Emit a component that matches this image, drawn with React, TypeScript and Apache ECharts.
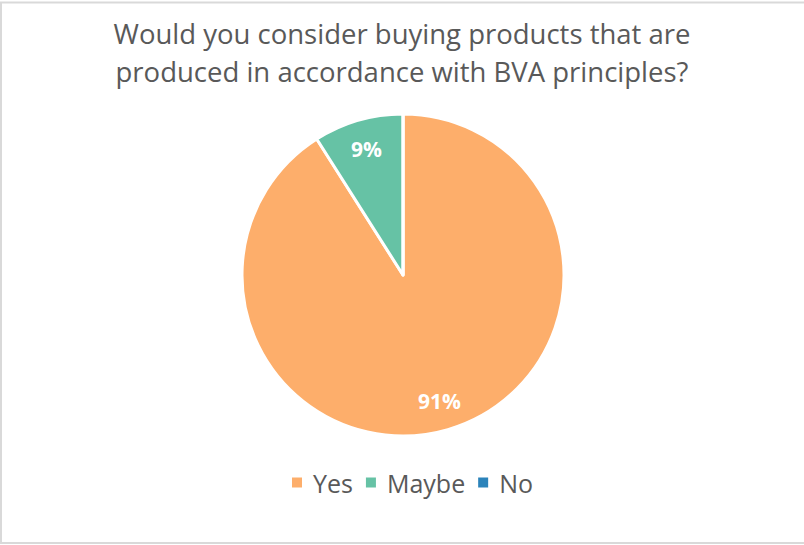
import React, { useEffect, useRef } from "react";
import * as echarts from "echarts";

const titleLines = ["Would you consider buying products that are", "produced in accordance with BVA principles?"];
const categories = ["Yes", "Maybe", "No"];
const values = [91, 9, 0];
const colors = ["#FDAE6B", "#66C2A5", "#2B83BA"];

export default function App() {
  const ref = useRef<HTMLDivElement>(null);
  useEffect(() => {
    document.body.style.margin = "0";
    if (!ref.current) return;
    const chart = echarts.init(ref.current, null, { renderer: "svg" });
    const font = "'Open Sans', sans-serif";
    const data = categories.map((c, i) => ({ name: c, value: values[i], itemStyle: { color: colors[i] } }));
    chart.setOption({
      animation: false,
      backgroundColor: "#ffffff",
      title: {
        text: titleLines.join("\n"),
        left: "center",
        top: 9,
        textStyle: { fontFamily: font, fontSize: 27.5, fontWeight: "normal", color: "#595959", lineHeight: 38 },
      },
      legend: {
        data: categories,
        bottom: 45,
        left: 285,
        icon: "rect",
        itemWidth: 12,
        itemHeight: 12,
        itemGap: 11,
        textStyle: { fontFamily: font, fontSize: 25, color: "#595959", padding: [0, 0, 0, 5] },
      },
      graphic: [
        {
          type: "rect",
          shape: { x: 1, y: 2.5, width: 820, height: 540.5 },
          style: { fill: "none", stroke: "#d9d9d9", lineWidth: 2 },
          silent: true,
        },
      ],
      series: [
        {
          type: "pie",
          center: [403, 275],
          radius: [0, 161],
          startAngle: 90,
          clockwise: true,
          data,
          itemStyle: { borderColor: "#ffffff", borderWidth: 3 },
          label: { show: false },
          labelLine: { show: false },
          silent: true,
        },
        {
          type: "pie",
          center: [403, 275],
          radius: [0, 256],
          startAngle: 90,
          clockwise: true,
          data: categories.map((c, i) => ({ name: c, value: values[i] })),
          itemStyle: { color: "rgba(0,0,0,0)", borderWidth: 0 },
          label: {
            show: true,
            position: "inside",
            fontFamily: font,
            fontSize: 21,
            fontWeight: "bold",
            color: "#ffffff",
            formatter: (p: any) => (p.value ? `${p.percent}%` : ""),
          },
          labelLine: { show: false },
          silent: true,
          emphasis: { disabled: true },
        },
      ],
    });
    return () => chart.dispose();
  }, []);
  return <div ref={ref} style={{ width: 804, height: 545 }} />;
}
